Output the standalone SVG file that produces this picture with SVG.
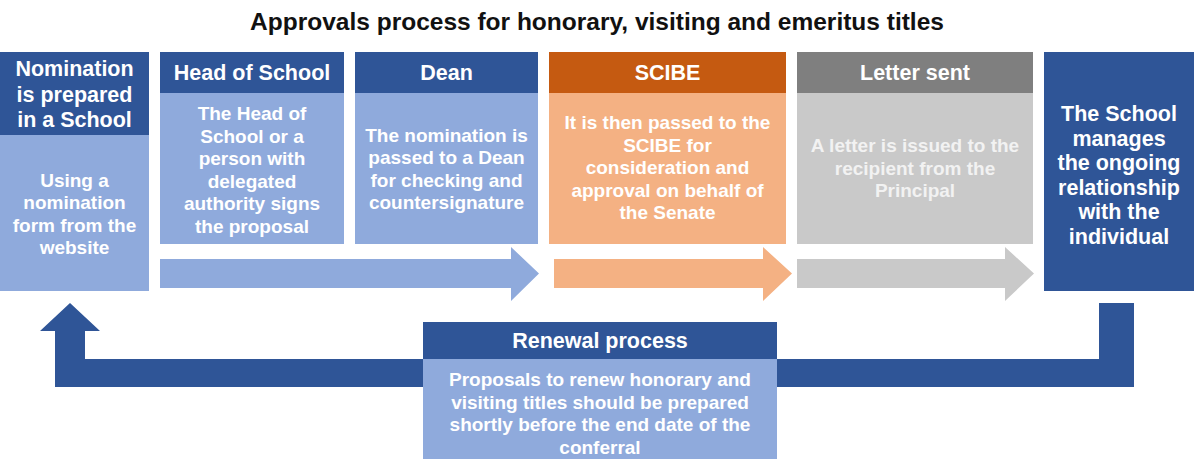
<svg xmlns="http://www.w3.org/2000/svg" width="1200" height="467" viewBox="0 0 1200 467">
<style>
text{font-family:"Liberation Sans",Arial,sans-serif;font-weight:bold;text-anchor:middle}
.title{font-size:24.5px;fill:#111}
.hd{font-size:21.5px;fill:#fff}
.bd{font-size:19px;fill:#fff}
.gbd{font-size:19px;fill:#F2F2F2}
.dk{fill:#2F5597}
.lb{fill:#8FAADC}
.od{fill:#C55A11}
.ol{fill:#F4B183}
.gd{fill:#7F7F7F}
.gl{fill:#C9C9C9}
</style>
<rect width="1200" height="467" fill="#fff"/>
<text class="title" x="597" y="30">Approvals process for honorary, visiting and emeritus titles</text>

<g id="connectors">
<polygon class="lb" points="160,259 511,259 511,247 539,273.5 511,301 511,288 160,288"/>
<polygon class="ol" points="554,259 763,259 763,247 792,273.5 763,301 763,288 554,288"/>
<polygon class="gl" points="797,259 1005,259 1005,247 1034,273.5 1005,301 1005,288 797,288"/>
<polygon class="dk" points="1099,303 1134,303 1134,387 55,387 55,331 40,331 70,303 100,331 85,331 85,359 1099,359"/>
</g>

<g id="nomination">
<rect class="dk" x="0" y="52" width="149" height="83"/>
<rect class="lb" x="0" y="135" width="149" height="156"/>
<text class="hd" x="74.5" y="76">Nomination</text>
<text class="hd" x="74.5" y="101.5">is prepared</text>
<text class="hd" x="74.5" y="127">in a School</text>
<text class="bd" x="74.5" y="186.5">Using a</text>
<text class="bd" x="74.5" y="209">nomination</text>
<text class="bd" x="74.5" y="231.5">form from the</text>
<text class="bd" x="74.5" y="254">website</text>
</g>

<g id="head-of-school">
<rect class="dk" x="160" y="52" width="184" height="41"/>
<rect class="lb" x="160" y="93" width="184" height="151"/>
<text class="hd" x="252" y="80">Head of School</text>
<text class="bd" x="252" y="120">The Head of</text>
<text class="bd" x="252" y="142.5">School or a</text>
<text class="bd" x="252" y="165">person with</text>
<text class="bd" x="252" y="187.5">delegated</text>
<text class="bd" x="252" y="210">authority signs</text>
<text class="bd" x="252" y="232.5">the proposal</text>
</g>

<g id="dean">
<rect class="dk" x="355" y="52" width="183" height="41"/>
<rect class="lb" x="355" y="93" width="183" height="151"/>
<text class="hd" x="446.5" y="80">Dean</text>
<text class="bd" x="446.5" y="141.5">The nomination is</text>
<text class="bd" x="446.5" y="164">passed to a Dean</text>
<text class="bd" x="446.5" y="186.5">for checking and</text>
<text class="bd" x="446.5" y="209">countersignature</text>
</g>

<g id="scibe">
<rect class="od" x="549" y="52" width="237" height="41"/>
<rect class="ol" x="549" y="93" width="237" height="151"/>
<text class="hd" x="667.5" y="80">SCIBE</text>
<text class="bd" x="667.5" y="129">It is then passed to the</text>
<text class="bd" x="667.5" y="151.5">SCIBE for</text>
<text class="bd" x="667.5" y="174">consideration and</text>
<text class="bd" x="667.5" y="196.5">approval on behalf of</text>
<text class="bd" x="667.5" y="219">the Senate</text>
</g>

<g id="letter-sent">
<rect class="gd" x="797" y="52" width="236" height="41"/>
<rect class="gl" x="797" y="93" width="236" height="151"/>
<text class="hd" x="915" y="80">Letter sent</text>
<text class="gbd" x="915" y="152">A letter is issued to the</text>
<text class="gbd" x="915" y="174.5">recipient from the</text>
<text class="gbd" x="915" y="197">Principal</text>
</g>

<g id="school-manages">
<rect class="dk" x="1044" y="52" width="150" height="239"/>
<text class="hd" x="1119" y="121">The School</text>
<text class="hd" x="1119" y="145.5">manages</text>
<text class="hd" x="1119" y="170">the ongoing</text>
<text class="hd" x="1119" y="194.5">relationship</text>
<text class="hd" x="1119" y="219">with the</text>
<text class="hd" x="1119" y="243.5">individual</text>
</g>

<g id="renewal">
<rect class="dk" x="423" y="322" width="354" height="37"/>
<rect class="lb" x="423" y="359" width="354" height="100"/>
<text class="hd" x="600" y="348">Renewal process</text>
<text class="bd" x="600" y="386">Proposals to renew honorary and</text>
<text class="bd" x="600" y="408.5">visiting titles should be prepared</text>
<text class="bd" x="600" y="431">shortly before the end date of the</text>
<text class="bd" x="600" y="453.5">conferral</text>
</g>
</svg>
